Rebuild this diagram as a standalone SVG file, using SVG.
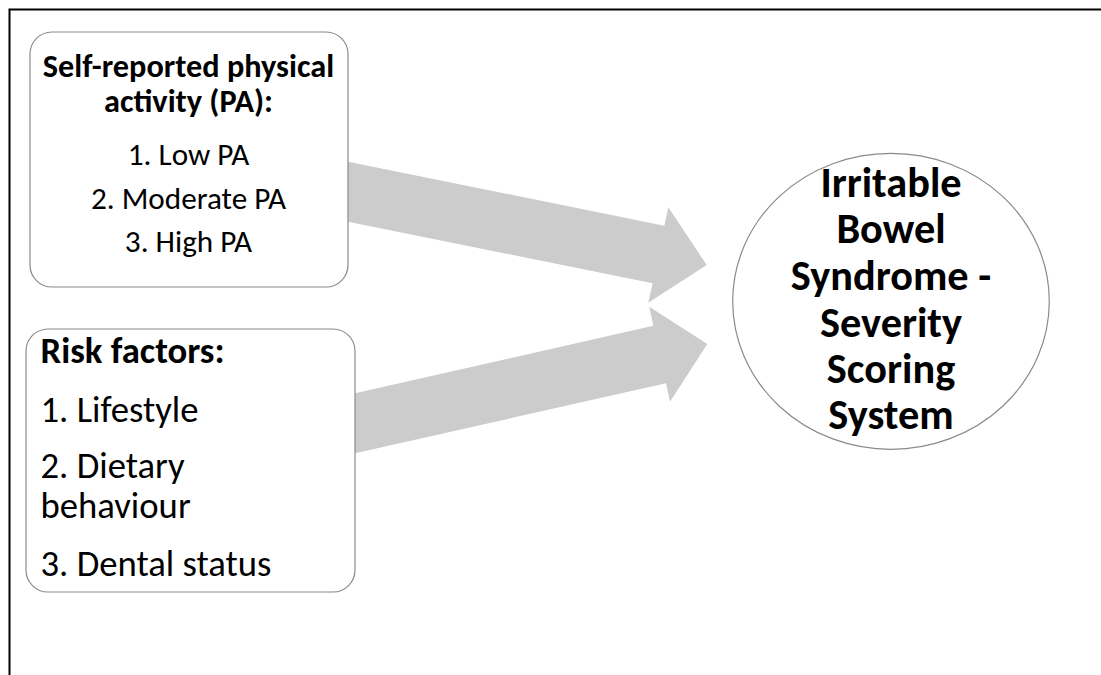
<svg xmlns="http://www.w3.org/2000/svg" width="1101" height="675" viewBox="0 0 1101 675">
<style>
.box{fill:#fff;stroke:#8a8a8a;stroke-width:1.2}
.t{font-family:Carlito,Lato,"Liberation Sans",sans-serif;fill:#000}
.s1{font-size:32.3px}
.s2{font-size:31.2px}
.s3{font-size:36.7px}
.s4{font-size:42.3px}
.b{font-weight:bold}
.c{text-anchor:middle}
.arrow{fill:#cccccc}
</style>
<rect width="1101" height="675" fill="#fff"/>
<path d="M9.5 675 V9.5 H1101" fill="none" stroke="#000" stroke-width="2"/>
<g id="connectors">
<polygon class="arrow" points="348,161.7 664.3,225.7 668.3,207.3 706.7,265 648.3,302.7 652.7,283.3 348,221.7"/>
<polygon class="arrow" points="355,393.3 653.3,325.7 649.3,306.7 707.3,344 670,401.7 666,383.3 355,453.3"/>
</g>
<g id="node-pa">
<rect class="box" x="30" y="32" width="318" height="255" rx="22"/>
<text class="t s1 b c" x="188.5" y="76.5">Self-reported physical</text>
<text class="t s1 b c" x="188.5" y="111.5">activity (PA):</text>
<text class="t s2 c" x="188.5" y="165">1. Low PA</text>
<text class="t s2 c" x="188.5" y="208.5">2. Moderate PA</text>
<text class="t s2 c" x="188.5" y="252">3. High PA</text>
</g>
<g id="node-risk">
<rect class="box" x="26" y="329" width="329" height="263" rx="22"/>
<text class="t s3 b" x="40.5" y="363.3">Risk factors:</text>
<text class="t s3" x="40.5" y="421.7">1. Lifestyle</text>
<text class="t s3" x="40.5" y="478.3">2. Dietary</text>
<text class="t s3" x="40.5" y="518.3">behaviour</text>
<text class="t s3" x="40.5" y="576">3. Dental status</text>
</g>
<g id="node-ibs">
<ellipse class="box" cx="891" cy="301.3" rx="158.3" ry="148"/>
<text class="t s4 b c" x="891" y="196.7">Irritable</text>
<text class="t s4 b c" x="891" y="243.3">Bowel</text>
<text class="t s4 b c" x="891" y="290">Syndrome -</text>
<text class="t s4 b c" x="891" y="336.7">Severity</text>
<text class="t s4 b c" x="891" y="383">Scoring</text>
<text class="t s4 b c" x="891" y="429">System</text>
</g>
</svg>
